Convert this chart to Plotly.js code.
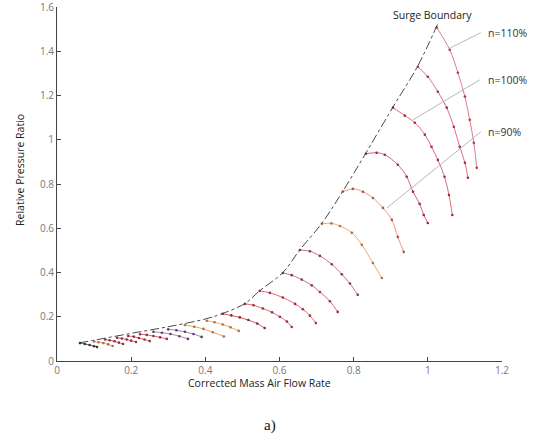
<!DOCTYPE html>
<html>
<head>
<meta charset="utf-8">
<script src="https://cdn.plot.ly/plotly-3.0.1.min.js"></script>
<style>html,body{margin:0;padding:0;background:#fff;}#chart{width:540px;height:441px;}</style>
</head>
<body>
<div id="chart"></div>
<script>
// Speed lines (x = corrected mass air flow rate, y = relative pressure ratio), from top to bottom
const c1x = [1.024, 1.059, 1.081, 1.100, 1.113, 1.124, 1.132];
const c1y = [1.507, 1.407, 1.303, 1.195, 1.090, 0.986, 0.873];
const c2x = [0.973, 1.000, 1.027, 1.051, 1.070, 1.086, 1.100, 1.108];
const c2y = [1.330, 1.285, 1.217, 1.145, 1.059, 0.968, 0.896, 0.828];
const c3x = [0.906, 0.938, 0.965, 0.992, 1.010, 1.027, 1.045, 1.057, 1.066];
const c3y = [1.145, 1.109, 1.077, 1.023, 0.968, 0.909, 0.833, 0.750, 0.660];
const c4x = [0.833, 0.862, 0.884, 0.919, 0.943, 0.960, 0.978, 0.989, 1.000];
const c4y = [0.937, 0.941, 0.932, 0.887, 0.833, 0.765, 0.710, 0.660, 0.624];
const c5x = [0.771, 0.798, 0.825, 0.852, 0.879, 0.903, 0.919, 0.935];
const c5y = [0.766, 0.778, 0.765, 0.737, 0.692, 0.638, 0.561, 0.493];
const c6x = [0.714, 0.740, 0.763, 0.795, 0.822, 0.852, 0.876];
const c6y = [0.620, 0.622, 0.610, 0.580, 0.525, 0.443, 0.375];
const c7x = [0.655, 0.682, 0.709, 0.741, 0.768, 0.790, 0.811];
const c7y = [0.502, 0.496, 0.475, 0.437, 0.392, 0.350, 0.299];
const c8x = [0.609, 0.633, 0.660, 0.687, 0.709, 0.736, 0.757];
const c8y = [0.398, 0.388, 0.368, 0.342, 0.312, 0.270, 0.222];
const c9x = [0.547, 0.574, 0.609, 0.642, 0.663, 0.682, 0.698];
const c9y = [0.317, 0.308, 0.287, 0.258, 0.234, 0.205, 0.172];
const c10x = [0.507, 0.530, 0.555, 0.580, 0.601, 0.620, 0.633];
const c10y = [0.258, 0.252, 0.237, 0.220, 0.200, 0.178, 0.154];
const c11x = [0.447, 0.470, 0.493, 0.516, 0.540, 0.560];
const c11y = [0.213, 0.206, 0.197, 0.185, 0.169, 0.149];
const c12x = [0.404, 0.425, 0.447, 0.468, 0.490];
const c12y = [0.182, 0.175, 0.165, 0.152, 0.136];
const c13x = [0.345, 0.370, 0.395, 0.420, 0.450];
const c13y = [0.163, 0.155, 0.145, 0.130, 0.111];
const c14x = [0.300, 0.322, 0.345, 0.368, 0.390];
const c14y = [0.143, 0.139, 0.132, 0.122, 0.109];
const c15x = [0.260, 0.283, 0.306, 0.330, 0.353];
const c15y = [0.132, 0.128, 0.122, 0.112, 0.100];
const c16x = [0.224, 0.242, 0.260, 0.278, 0.296];
const c16y = [0.121, 0.118, 0.113, 0.107, 0.100];
const c17x = [0.192, 0.207, 0.221, 0.236, 0.250];
const c17y = [0.113, 0.110, 0.104, 0.097, 0.090];
const c18x = [0.162, 0.175, 0.188, 0.200, 0.213];
const c18y = [0.105, 0.102, 0.097, 0.092, 0.086];
const c19x = [0.130, 0.142, 0.155, 0.167, 0.178];
const c19y = [0.097, 0.094, 0.089, 0.083, 0.077];
const c20x = [0.100, 0.112, 0.125, 0.138, 0.150];
const c20y = [0.088, 0.085, 0.081, 0.075, 0.068];
const c21x = [0.062, 0.075, 0.088, 0.100, 0.108];
const c21y = [0.081, 0.077, 0.072, 0.067, 0.063];

// Surge boundary
const surgeX = [0.060, 0.100, 0.200, 0.300, 0.400, 0.447, 0.507, 0.547, 0.609, 0.655, 0.714, 0.771, 0.833, 0.906, 0.973, 1.027];
const surgeY = [0.082, 0.094, 0.125, 0.155, 0.190, 0.215, 0.260, 0.318, 0.400, 0.503, 0.622, 0.768, 0.940, 1.148, 1.334, 1.525];

// Label leader lines
const lead110x = [1.143, 1.057];
const lead110y = [1.484, 1.412];
const lead100x = [1.140, 0.960];
const lead100y = [1.271, 1.090];
const lead90x = [1.143, 0.890];
const lead90y = [1.036, 0.692];

const labels = ['n=110%', 'n=100%', 'n=90%'];
const labelY = [1.484, 1.271, 1.036];

const curves = [
  [c1x, c1y, '#e27c88', '#a84050'],
  [c2x, c2y, '#e07080', '#a03040'],
  [c3x, c3y, '#de6a78', '#a03040'],
  [c4x, c4y, '#d9607a', '#903048'],
  [c5x, c5y, '#ea9a80', '#a85848'],
  [c6x, c6y, '#f0a868', '#b07040'],
  [c7x, c7y, '#c87098', '#7a3858'],
  [c8x, c8y, '#d07088', '#803850'],
  [c9x, c9y, '#e06872', '#983040'],
  [c10x, c10y, '#e06872', '#983040'],
  [c11x, c11y, '#cc5868', '#802838'],
  [c12x, c12y, '#f0a868', '#b07040'],
  [c13x, c13y, '#f0a264', '#b07040'],
  [c14x, c14y, '#a086b0', '#504070'],
  [c15x, c15y, '#b484a8', '#604060'],
  [c16x, c16y, '#d86872', '#903040'],
  [c17x, c17y, '#d8606c', '#903040'],
  [c18x, c18y, '#d8606c', '#903040'],
  [c19x, c19y, '#d8606c', '#903040'],
  [c20x, c20y, '#f0a868', '#b07040'],
  [c21x, c21y, '#606080', '#303050']
];

const traces = [];
curves.forEach(c => {
  traces.push({
    x: c[0], y: c[1], type: 'scatter', mode: 'lines+markers',
    line: {color: c[2], width: 1, shape: 'spline'},
    marker: {color: c[3], size: 2.6},
    hoverinfo: 'skip', showlegend: false
  });
});
traces.push({
  x: surgeX, y: surgeY, type: 'scatter', mode: 'lines',
  line: {color: '#333', width: 0.9, dash: 'dashdot', shape: 'spline'},
  showlegend: false, hoverinfo: 'skip'
});
[[lead110x, lead110y], [lead100x, lead100y], [lead90x, lead90y]].forEach(l => {
  traces.push({
    x: l[0], y: l[1], type: 'scatter', mode: 'lines',
    line: {color: '#b0b0b0', width: 0.9}, showlegend: false, hoverinfo: 'skip'
  });
});

const annotations = labels.map((t, i) => ({
  x: 1.158, y: labelY[i], xref: 'x', yref: 'y', text: t, showarrow: false,
  xanchor: 'left', yanchor: 'middle', font: {family: 'Open Sans, sans-serif', size: 10.5, color: '#333'}
}));
annotations.push({
  x: 1.013, y: 1.566, xref: 'x', yref: 'y', text: 'Surge Boundary', showarrow: false,
  xanchor: 'center', yanchor: 'middle', font: {family: 'Open Sans, sans-serif', size: 10.5, color: '#222'}
});
annotations.push({
  x: 0.456, y: -0.062, xref: 'paper', yref: 'paper', text: 'Corrected Mass Air Flow Rate', showarrow: false,
  xanchor: 'center', yanchor: 'middle', font: {family: 'Open Sans, sans-serif', size: 10.5, color: '#222'}
});
annotations.push({
  x: -0.083, y: 0.54, xref: 'paper', yref: 'paper', text: 'Relative Pressure Ratio', showarrow: false,
  textangle: -90, xanchor: 'center', yanchor: 'middle', font: {family: 'Open Sans, sans-serif', size: 10.5, color: '#222'}
});
annotations.push({
  x: 0.479, y: -0.181, xref: 'paper', yref: 'paper', text: 'a)', showarrow: false,
  xanchor: 'center', yanchor: 'middle', font: {family: 'Liberation Serif, Times New Roman, serif', size: 15, color: '#111'}
});

const layout = {
  width: 540, height: 441,
  margin: {l: 57, r: 38, t: 7, b: 80},
  paper_bgcolor: '#fff', plot_bgcolor: '#fff',
  showlegend: false,
  xaxis: {
    range: [0, 1.2], dtick: 0.2, tick0: 0, ticks: 'inside', ticklen: 4, tickcolor: '#444',
    showline: true, linecolor: '#444', linewidth: 1, showgrid: false, zeroline: false,
    ticklabeloverflow: 'allow',
    tickfont: {family: 'Open Sans, sans-serif', size: 10, color: '#777'}, fixedrange: true
  },
  yaxis: {
    range: [0, 1.6], dtick: 0.2, tick0: 0, ticks: 'inside', ticklen: 4, tickcolor: '#444',
    showline: true, linecolor: '#444', linewidth: 1, showgrid: false, zeroline: false,
    ticklabeloverflow: 'allow',
    tickfont: {family: 'Open Sans, sans-serif', size: 10, color: '#777'}, fixedrange: true
  },
  annotations: annotations
};

Plotly.newPlot('chart', traces, layout, {displayModeBar: false, staticPlot: true});
</script>
</body>
</html>
